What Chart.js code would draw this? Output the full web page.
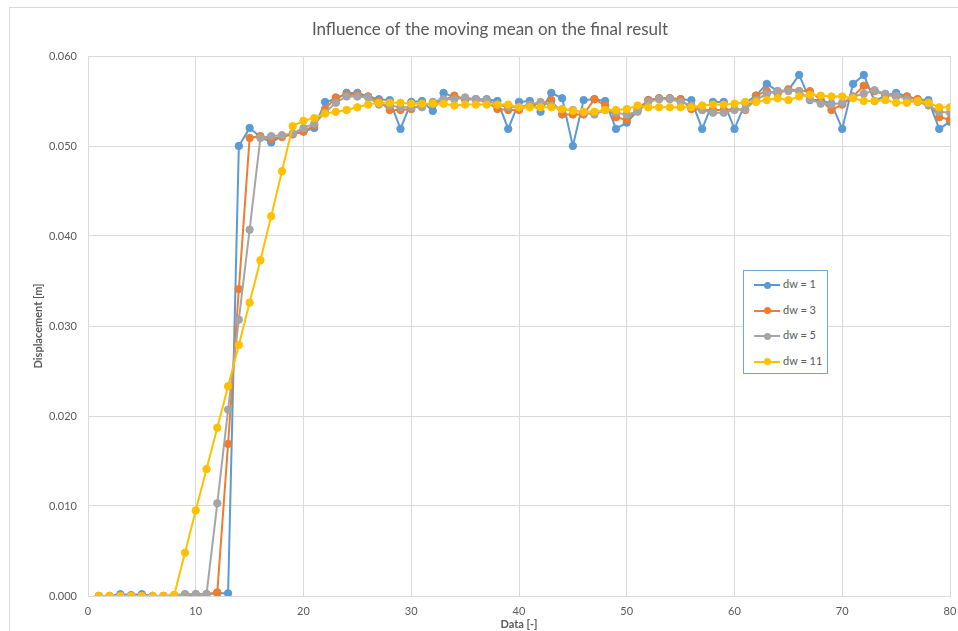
<!DOCTYPE html>
<html>
<head>
<meta charset="utf-8">
<title>Influence of the moving mean on the final result</title>
<script src="https://cdn.jsdelivr.net/npm/chart.js@4/dist/chart.umd.min.js"></script>
<style>
  html, body { margin: 0; padding: 0; background: #fff; }
  #wrap { position: relative; width: 958px; height: 631px; overflow: hidden; }
  #legend {
    position: absolute; left: 743px; top: 270px; width: 83px;
    border: 1px solid #6fa5db; background: #fff;
    font: 11px Lato, "Open Sans", sans-serif; color: #595959;
  }
  #legend .row { height: 25.5px; line-height: 25.5px; white-space: nowrap; }
  #legend .swatch {
    position: relative; display: inline-block; width: 26px; height: 2px;
    margin-left: 10px; margin-right: 3px; vertical-align: middle;
  }
  #legend .swatch i {
    position: absolute; left: 9.5px; top: -2.5px; width: 7px; height: 7px; border-radius: 50%;
  }
</style>
</head>
<body>
<div id="wrap">
  <canvas id="chart" width="958" height="631"></canvas>
  <div id="legend"></div>
</div>
<script>
// x values (data index)
var dataX = [1, 2, 3, 4, 5, 6, 7, 8, 9, 10, 11, 12, 13, 14, 15, 16, 17, 18, 19, 20,
  21, 22, 23, 24, 25, 26, 27, 28, 29, 30, 31, 32, 33, 34, 35, 36, 37, 38, 39, 40,
  41, 42, 43, 44, 45, 46, 47, 48, 49, 50, 51, 52, 53, 54, 55, 56, 57, 58, 59, 60,
  61, 62, 63, 64, 65, 66, 67, 68, 69, 70, 71, 72, 73, 74, 75, 76, 77, 78, 79, 80];

var seriesNames = ['dw = 1', 'dw = 3', 'dw = 5', 'dw = 11'];
var seriesColors = ['#5b9bd5', '#ed7d31', '#a5a5a5', '#ffc000'];

var dw1 = [0, 0, 0.0002, 0.0001, 0.0002, 0, 0, 0.0001, 0.0002, 0.0002,
  0.0002, 0.0003, 0.0003, 0.0500, 0.0520, 0.0510, 0.0504, 0.0511, 0.0513, 0.0516,
  0.0520, 0.0549, 0.0552, 0.0559, 0.0559, 0.0555, 0.0552, 0.0551, 0.0519, 0.0549,
  0.0550, 0.0539, 0.0559, 0.0554, 0.0552, 0.0552, 0.0552, 0.0550, 0.0519, 0.0549,
  0.0550, 0.0538, 0.0559, 0.0553, 0.0500, 0.0551, 0.0552, 0.0550, 0.0519, 0.0526,
  0.0539, 0.0551, 0.0553, 0.0553, 0.0552, 0.0551, 0.0519, 0.0549, 0.0549, 0.0519,
  0.0548, 0.0556, 0.0569, 0.0561, 0.0562, 0.0579, 0.0551, 0.0551, 0.0547, 0.0519,
  0.0569, 0.0579, 0.0550, 0.0556, 0.0559, 0.0555, 0.0552, 0.0551, 0.0519, 0.0527];

var dw3 = [0, 0, 0, 0, 0, 0, 0, 0, 0.0001, 0.0001,
  0.0002, 0.0004, 0.0169, 0.0341, 0.0509, 0.0511, 0.0508, 0.0510, 0.0513, 0.0516,
  0.0523, 0.0541, 0.0554, 0.0557, 0.0557, 0.0555, 0.0550, 0.0540, 0.0540, 0.0541,
  0.0546, 0.0547, 0.0551, 0.0556, 0.0552, 0.0552, 0.0549, 0.0541, 0.0540, 0.0540,
  0.0546, 0.0547, 0.0551, 0.0535, 0.0535, 0.0535, 0.0552, 0.0545, 0.0532, 0.0529,
  0.0541, 0.0551, 0.0553, 0.0553, 0.0552, 0.0541, 0.0540, 0.0540, 0.0540, 0.0541,
  0.0540, 0.0556, 0.0561, 0.0558, 0.0563, 0.0561, 0.0561, 0.0551, 0.0540, 0.0546,
  0.0555, 0.0567, 0.0561, 0.0557, 0.0555, 0.0555, 0.0552, 0.0548, 0.0532, 0.0529];

var dw5 = [0, 0, 0, 0, 0, 0, 0, 0, 0.0002, 0.0002,
  0.0002, 0.0103, 0.0207, 0.0307, 0.0407, 0.0509, 0.0511, 0.0512, 0.0514, 0.0520,
  0.0525, 0.0537, 0.0548, 0.0555, 0.0555, 0.0554, 0.0546, 0.0545, 0.0543, 0.0543,
  0.0543, 0.0549, 0.0552, 0.0552, 0.0554, 0.0552, 0.0551, 0.0546, 0.0543, 0.0543,
  0.0546, 0.0549, 0.0545, 0.0541, 0.0540, 0.0537, 0.0535, 0.0540, 0.0537, 0.0535,
  0.0538, 0.0549, 0.0552, 0.0552, 0.0549, 0.0545, 0.0540, 0.0537, 0.0537, 0.0540,
  0.0541, 0.0551, 0.0558, 0.0561, 0.0561, 0.0561, 0.0552, 0.0547, 0.0546, 0.0548,
  0.0555, 0.0558, 0.0562, 0.0558, 0.0556, 0.0552, 0.0549, 0.0545, 0.0538, 0.0537];

var dw11 = [0, 0, 0, 0, 0, 0, 0, 0.0001, 0.0048, 0.0095,
  0.0141, 0.0187, 0.0233, 0.0279, 0.0326, 0.0373, 0.0422, 0.0472, 0.0522, 0.0528,
  0.0531, 0.0536, 0.0538, 0.0540, 0.0543, 0.0546, 0.0548, 0.0548, 0.0548, 0.0547,
  0.0547, 0.0547, 0.0547, 0.0545, 0.0546, 0.0546, 0.0546, 0.0546, 0.0546, 0.0543,
  0.0543, 0.0543, 0.0543, 0.0541, 0.0539, 0.0538, 0.0538, 0.0540, 0.0540, 0.0541,
  0.0545, 0.0543, 0.0543, 0.0543, 0.0543, 0.0543, 0.0545, 0.0546, 0.0546, 0.0547,
  0.0549, 0.0549, 0.0551, 0.0553, 0.0551, 0.0555, 0.0557, 0.0556, 0.0555, 0.0555,
  0.0553, 0.0550, 0.0550, 0.0551, 0.0548, 0.0548, 0.0550, 0.0548, 0.0543, 0.0543];

var xTicks = [0, 10, 20, 30, 40, 50, 60, 70, 80];
var yTicks = [0, 0.01, 0.02, 0.03, 0.04, 0.05, 0.06];

var allSeries = [dw1, dw3, dw5, dw11];
var textColor = '#595959';
var gridColor = '#d9d9d9';
var fontFamily = 'Lato, "Open Sans", sans-serif';

function toPoints(values) {
  return values.map(function (v, i) { return { x: dataX[i], y: v }; });
}

var datasets = allSeries.map(function (values, i) {
  return {
    label: seriesNames[i],
    data: toPoints(values),
    borderColor: seriesColors[i],
    backgroundColor: seriesColors[i],
    pointBackgroundColor: seriesColors[i],
    pointBorderColor: seriesColors[i],
    borderWidth: 2,
    pointRadius: 3.7,
    pointBorderWidth: 1,
    tension: 0,
    // later series on top, like the spreadsheet
    order: allSeries.length - i
  };
});

// outer frame of the chart object
var framePlugin = {
  id: 'frame',
  beforeDraw: function (chart) {
    var ctx = chart.ctx;
    ctx.save();
    ctx.fillStyle = '#ffffff';
    ctx.fillRect(0, 0, chart.width, chart.height);
    ctx.strokeStyle = gridColor;
    ctx.lineWidth = 1;
    ctx.strokeRect(9.5, 7.5, 2000, 2000);
    ctx.restore();
  }
};

var chart = new Chart(document.getElementById('chart'), {
  type: 'line',
  data: { datasets: datasets },
  plugins: [framePlugin],
  options: {
    responsive: false,
    animation: false,
    events: [],
    layout: { padding: { left: 30, right: 8, top: 0, bottom: 0 } },
    plugins: {
      legend: { display: false },
      tooltip: { enabled: false },
      title: {
        display: true,
        text: 'Influence of the moving mean on the final result',
        color: textColor,
        font: { family: fontFamily, size: 17, weight: 'normal', lineHeight: 1.2 },
        padding: { top: 19, bottom: 16.6 }
      }
    },
    scales: {
      x: {
        type: 'linear',
        min: 0,
        max: 80,
        afterBuildTicks: function (scale) {
          scale.ticks = xTicks.map(function (v) { return { value: v }; });
        },
        afterFit: function (scale) {
          scale.height = 35;
          scale.paddingLeft = 0;
          scale.paddingRight = 0;
        },
        grid: { color: gridColor, drawTicks: false },
        border: { color: gridColor },
        ticks: { color: textColor, padding: 9, font: { family: fontFamily, size: 11 } },
        title: {
          display: true,
          text: 'Data [-]',
          color: textColor,
          font: { family: fontFamily, size: 11, weight: 'bold' },
          padding: { top: 0, bottom: 0 }
        }
      },
      y: {
        type: 'linear',
        min: 0,
        max: 0.06,
        afterBuildTicks: function (scale) {
          scale.ticks = yTicks.map(function (v) { return { value: v }; });
        },
        afterFit: function (scale) { scale.width = 58; },
        grid: { color: gridColor, drawTicks: false },
        border: { color: gridColor },
        ticks: {
          color: textColor,
          padding: 11,
          font: { family: fontFamily, size: 11 },
          callback: function (v) { return Number(v).toFixed(3); }
        },
        title: {
          display: true,
          text: 'Displacement [m]',
          color: textColor,
          font: { family: fontFamily, size: 11, weight: 'bold' },
          padding: { top: 1.4, bottom: 0 }
        }
      }
    }
  }
});

// html legend
var legendHtml = [];
for (var i = 0; i < datasets.length; i++) {
  legendHtml.push('<div class="row"><span class="swatch" style="background:' + seriesColors[i] +
    '"><i style="background:' + seriesColors[i] + '"></i></span>' + seriesNames[i] + '</div>');
}
document.getElementById('legend').innerHTML = legendHtml.join('');
</script>
</body>
</html>
